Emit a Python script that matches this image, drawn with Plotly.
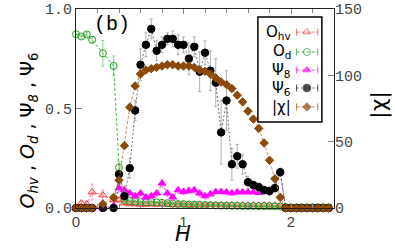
import plotly.graph_objects as go

H = [0, 0.05, 0.1, 0.15, 0.25, 0.35, 0.4, 0.45, 0.5, 0.55, 0.6, 0.65, 0.7, 0.75, 0.8, 0.85,
     0.9, 0.95, 1.0, 1.05, 1.1, 1.15, 1.2, 1.25, 1.3, 1.35, 1.4, 1.45, 1.5, 1.55, 1.6, 1.65,
     1.7, 1.75, 1.8, 1.85, 1.9, 1.95, 2.0, 2.05, 2.1, 2.15, 2.2, 2.25, 2.3, 2.35]

O_hv = [0.0, 0.025, 0.02, 0.08, 0.065, 0.04, 0.04, 0.025, 0.02, 0.02, 0.018, 0.018, 0.02, 0.018,
        0.02, 0.018, 0.015, 0.018, 0.016, 0.015, 0.016, 0.015, 0.015, 0.016, 0.015, 0.015, 0.014,
        0.015, 0.014, 0.015, 0.014, 0.015, 0.014, 0.015, 0.014, 0.015, 0.012, 0.003, 0.002, 0.002,
        0.002, 0.002, 0.002, 0.002, 0.002, 0.002]
O_hv_err = [0, 0.01, 0.01, 0.04, 0.025, 0.015, 0.01, 0.008, 0.006, 0.005, 0.005, 0.005, 0.005,
            0.005, 0.005, 0.005, 0.005, 0.005, 0.005, 0.005, 0.005, 0.005, 0.005, 0.005, 0.005,
            0.005, 0.005, 0.005, 0.005, 0.005, 0.005, 0.005, 0.005, 0.005, 0.005, 0.005, 0.005,
            0.002, 0.001, 0.001, 0.001, 0.001, 0.001, 0.001, 0.001, 0.001]

O_d = [0.873, 0.862, 0.872, 0.845, 0.777, 0.714, 0.204, 0.04, 0.035, 0.032, 0.03, 0.028, 0.03,
       0.028, 0.026, 0.024, 0.022, 0.02, 0.02, 0.018, 0.017, 0.016, 0.015, 0.014, 0.013, 0.012,
       0.012, 0.011, 0.011, 0.01, 0.01, 0.01, 0.009, 0.009, 0.009, 0.008, 0.008, 0.004, 0.003,
       0.003, 0.003, 0.003, 0.003, 0.003, 0.003, 0.003]
O_d_err = [0.005, 0.008, 0.01, 0.015, 0.065, 0.05, 0.03, 0.01, 0.006, 0.005, 0.005, 0.005,
           0.005, 0.005, 0.005, 0.005, 0.004, 0.004, 0.004, 0.004, 0.004, 0.004, 0.004, 0.004,
           0.004, 0.004, 0.004, 0.004, 0.004, 0.004, 0.004, 0.004, 0.004, 0.004, 0.004, 0.004,
           0.004, 0.002, 0.001, 0.001, 0.001, 0.001, 0.001, 0.001, 0.001, 0.001]

Psi8 = [0, 0, 0, 0, 0, 0.01, 0.1, 0.09, 0.075, 0.06, 0.074, 0.054, 0.06, 0.074, 0.124, 0.074,
        0.054, 0.09, 0.082, 0.087, 0.09, 0.074, 0.06, 0.07, 0.082, 0.082, 0.08, 0.075, 0.08,
        0.08, 0.08, 0.08, 0.077, 0.085, 0.09, 0.105, 0.18, 0, 0, 0, 0, 0, 0, 0, 0, 0]
Psi8_err = [0, 0, 0, 0, 0, 0.005, 0.02, 0.02, 0.015, 0.015, 0.015, 0.015, 0.015, 0.015, 0.02,
            0.015, 0.015, 0.015, 0.015, 0.015, 0.015, 0.015, 0.015, 0.012, 0.012, 0.012, 0.012,
            0.012, 0.012, 0.01, 0.01, 0.01, 0.01, 0.01, 0.01, 0.01, 0.01, 0, 0, 0, 0, 0, 0, 0,
            0, 0]

Psi6 = [0, 0, 0, 0, 0, 0, 0.17, 0.06, 0.2, 0.49, 0.72, 0.82, 0.90, 0.79, 0.82, 0.85, 0.85,
        0.82, 0.82, 0.75, 0.81, 0.685, 0.78, 0.69, 0.63, 0.38, 0.54, 0.22, 0.26, 0.22, 0.13,
        0.115, 0.105, 0.09, 0.085, 0.1, 0.18, 0, 0, 0, 0, 0, 0, 0, 0, 0]
Psi6_err = [0, 0, 0, 0, 0, 0, 0.05, 0.03, 0.05, 0.05, 0.08, 0.06, 0.05, 0.05, 0.04, 0.03, 0.04,
            0.05, 0.04, 0.08, 0.05, 0.1, 0.06, 0.1, 0.12, 0.16, 0.15, 0.08, 0.06, 0.05, 0.03,
            0.02, 0.02, 0.02, 0.02, 0.02, 0.02, 0, 0, 0, 0, 0, 0, 0, 0, 0]

chi = [0, 0, 0, 0, 3, 8, 21, 47, 76, 92, 101, 104, 105, 106, 107, 108, 108, 107, 107, 107, 106,
       104, 103, 101, 98, 95, 93, 90, 85, 80, 73, 67, 60, 49, 36, 22, 8, 0, 0, 0, 0, 0, 0, 0,
       0, 0]

series = [
    dict(name="O<sub>hv</sub>", y=O_hv, err=O_hv_err, color="#ff3030", line="#ff6060",
         ecolor="#ff8080", symbol="triangle-up-open", size=7, dash="3px,2px", axis="y"),
    dict(name="O<sub>d</sub>", y=O_d, err=O_d_err, color="#20a020", line="#30b030",
         ecolor="#60c060", symbol="circle-open", size=7, dash="3px,2px", axis="y"),
    dict(name="Ψ<sub>8</sub>", y=Psi8, err=Psi8_err, color="#ff00ff", line="#c040c0",
         ecolor="#ff60ff", symbol="triangle-up", size=7, dash="3px,2px", axis="y"),
    dict(name="Ψ<sub>6</sub>", y=Psi6, err=Psi6_err, color="#000000", line="#606060",
         ecolor="#909090", symbol="circle", size=7.5, dash="2px,2px", axis="y"),
    dict(name="|χ|", y=chi, err=None, color="#8b4a0a", line="#c08040",
         ecolor="#c08040", symbol="diamond", size=6.5, dash="3px,2px", axis="y2"),
]

fig = go.Figure()
for s in series:
    ey = None
    if s["err"] is not None:
        ey = dict(type="data", array=s["err"], visible=True, thickness=0.7,
                  width=1.5, color=s["ecolor"])
    fig.add_trace(go.Scatter(
        x=H, y=s["y"], yaxis=s["axis"], mode="lines+markers",
        line=dict(color=s["line"], width=0.9, dash=s["dash"]),
        marker=dict(symbol=s["symbol"], size=s["size"], color=s["color"],
                    line=dict(color=s["color"], width=1)),
        error_y=ey, cliponaxis=False, showlegend=False))

# manual legend (text left, sample right), drawn in a hidden overlay frame
leg_y = [0.884, 0.784, 0.693, 0.603, 0.508]
for s, ly in zip(series, leg_y):
    fig.add_trace(go.Scatter(
        x=[0.855, 0.895, 0.937], y=[ly, ly, ly], xaxis="x3", yaxis="y3",
        mode="lines+markers",
        line=dict(color=s["line"], width=0.9, dash=s["dash"]),
        marker=dict(symbol=["line-ns", s["symbol"], "line-ns"],
                    size=[5, s["size"], 5], color=s["color"],
                    line=dict(color=s["color"], width=1)),
        showlegend=False, hoverinfo="skip", cliponaxis=False))
    fig.add_annotation(x=0.842, y=ly, xref="paper", yref="paper", text=s["name"],
                       showarrow=False, xanchor="right", yanchor="middle",
                       font=dict(family="DejaVu Sans", size=15, color="black"))

fig.add_shape(type="rect", xref="paper", yref="paper", x0=0.705, x1=0.953,
              y0=0.432, y1=0.960, line=dict(color="black", width=1.5), layer="above")

fig.add_annotation(x=0.14, y=0.92, xref="paper", yref="paper", text="(b)",
                   xanchor="center", yanchor="middle",
                   showarrow=False, font=dict(family="Liberation Mono", size=20, color="black"))

# axis titles placed as annotations (pixel-matched)
fig.add_annotation(x=-0.186, y=0.39, xref="paper", yref="paper",
                   text="<i>O<sub>hv</sub></i> , <i>O<sub>d</sub></i> , Ψ<sub><i>8</i></sub> , Ψ<sub>6</sub>",
                   textangle=-90, showarrow=False, xanchor="center", yanchor="middle",
                   font=dict(family="DejaVu Sans", size=19, color="black"))
fig.add_annotation(x=1.171, y=0.52, xref="paper", yref="paper", text="|χ|",
                   textangle=-90, showarrow=False, xanchor="center", yanchor="middle",
                   font=dict(family="DejaVu Sans", size=22, color="black"))
fig.add_annotation(x=0.415, y=-0.203, xref="paper", yref="paper", text="<i>H</i>",
                   showarrow=False, xanchor="center", yanchor="bottom",
                   font=dict(family="DejaVu Sans", size=21, color="black"))

tickfont = dict(family="Liberation Mono", size=15, color="#444444")
fig.update_layout(
    width=395, height=249, margin=dict(l=76, r=61, t=9, b=41, autoexpand=False),
    paper_bgcolor="white", plot_bgcolor="white",
    xaxis=dict(range=[0, 2.4], tickvals=[0, 1, 2], ticks="inside", ticklen=5,
               tickcolor="#888888", showline=True, linecolor="#222222", linewidth=1.2,
               mirror="ticks", showgrid=False, zeroline=False, automargin=False,
               minor=dict(dtick=0.2, ticks="inside", ticklen=4, tickcolor="#888888"),
               tickfont=dict(family="Liberation Sans", size=15, color="#444444")),
    yaxis=dict(range=[0, 1], tickvals=[0, 0.5, 1], ticktext=["0.0", "0.5", "1.0"],
               ticks="inside", ticklen=6, tickcolor="#888888", showline=True,
               linecolor="#222222", linewidth=1.2, mirror=True, showgrid=False,
               zeroline=False, tickfont=tickfont, automargin=False),
    yaxis2=dict(range=[0, 150], tickvals=[0, 50, 100, 150], overlaying="y", side="right",
                ticks="inside", ticklen=6, tickcolor="#888888", showline=False,
                showgrid=False, zeroline=False, tickfont=tickfont, automargin=False),
    xaxis3=dict(range=[0, 1], overlaying="x", visible=False, anchor="y3"),
    yaxis3=dict(range=[0, 1], overlaying="y", visible=False, anchor="x3"),
)

fig.write_html("out.html", config={"displayModeBar": False},
               post_script="document.body.style.margin='0';document.body.style.overflow='hidden';")
